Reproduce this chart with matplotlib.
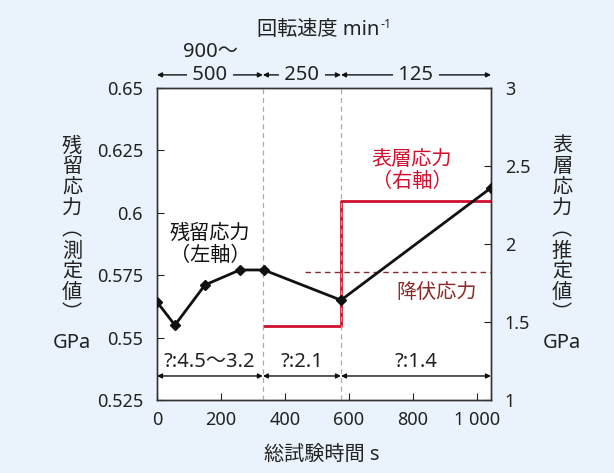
import numpy as np
import matplotlib.pyplot as plt

plt.rcParams['font.family'] = ['Noto Sans', 'Noto Sans CJK JP']

# residual stress (measured), left axis
t_res = [0, 56, 150, 259, 334, 575, 1044]
res = [0.5643, 0.555, 0.5711, 0.5771, 0.5771, 0.565, 0.610]

# surface stress (estimated), right axis
t_surf = [334, 575, 575, 1044]
surf = [1.474, 1.474, 2.276, 2.276]

# yield stress
t_yield = [462, 1044]
yld = [1.82, 1.82]

# speed stages
stage_edges = [0, 331, 575, 1044]
speed_labels = ['500', '250', '125']
ratio_labels = ['?:4.5〜3.2', '?:2.1', '?:1.4']

xticks = [0, 200, 400, 600, 800, 1000]
xticklabels = ['0', '200', '400', '600', '800', '1 000']

black = '#111111'
txt = '#222222'
red = '#D0102E'
darkred = '#8B2A2A'
bg = '#EAF3FB'
fs = 14.5

fig = plt.figure(figsize=(6.14, 4.73), dpi=100)
fig.patch.set_facecolor(bg)
ax = fig.add_axes([157/614, 73/473, 334/614, 312/473])
ax2 = ax.twinx()

ax.set_xlim(0, 1044)
ax.set_ylim(0.525, 0.65)
ax.set_yticks([0.525, 0.55, 0.575, 0.6, 0.625, 0.65])
ax.set_yticklabels(['0.525', '0.55', '0.575', '0.6', '0.625', '0.65'])
ax.set_xticks(xticks)
ax.set_xticklabels(xticklabels)
ax2.set_ylim(1, 3)
ax2.set_yticks([1, 1.5, 2, 2.5, 3])
ax2.set_yticklabels(['1', '1.5', '2', '2.5', '3'])

for a in (ax, ax2):
    a.tick_params(direction='in', labelsize=13, colors=txt, length=5, pad=10)
    for s in a.spines.values():
        s.set_color('#333333')
        s.set_linewidth(1.0)
ax.tick_params(axis='x', pad=8)

for xe in stage_edges[1:3]:
    ax.axvline(xe, color='#AAAAAA', lw=0.9, ls=(0, (4, 3)), zorder=1)

ax2.plot(t_yield, yld, color=darkred, lw=1.0, ls=(0, (4, 3)), zorder=2)
ax2.plot(t_surf, surf, color=red, lw=2.0, zorder=3)
ax.plot(t_res, res, color=black, lw=2.0, marker='D', ms=5, zorder=4)
ax.set_zorder(ax2.get_zorder() + 1)
ax.patch.set_visible(False)
ax2.patch.set_facecolor('white')
ax2.patch.set_visible(True)

# in-plot labels
ax.text(166, 0.5873, '残留応力\n（左軸）', ha='center', va='center', fontsize=fs, color=black,
        linespacing=1.1, family=['Noto Sans CJK JP'])
ax2.text(797, 2.47, '表層応力\n（右軸）', ha='center', va='center', fontsize=fs, color=red,
         linespacing=1.1, family=['Noto Sans CJK JP'])
ax2.text(875, 1.69, '降伏応力', ha='center', va='center', fontsize=fs, color=darkred,
         family=['Noto Sans CJK JP'])

# arrows above and below plot (x in data, y in axes fraction)
trans = ax.get_xaxis_transform()
for i in range(3):
    x0, x1 = stage_edges[i], stage_edges[i + 1]
    xm = (x0 + x1) / 2
    ax.annotate('', xy=(x0, 1.042), xytext=(x1, 1.042), xycoords=trans, textcoords=trans,
                arrowprops=dict(arrowstyle='<|-|>', color=black, lw=1.0, mutation_scale=7,
                                shrinkA=0, shrinkB=0), annotation_clip=False)
    ax.text(xm, 1.042, ' ' + speed_labels[i] + ' ', transform=trans, ha='center', va='center',
            fontsize=fs, color=txt, bbox=dict(fc=bg, ec='none', pad=0.3))
    ax.annotate('', xy=(x0, 0.077), xytext=(x1, 0.077), xycoords=trans, textcoords=trans,
                arrowprops=dict(arrowstyle='<|-|>', color=black, lw=1.0, mutation_scale=7,
                                shrinkA=0, shrinkB=0), annotation_clip=False)
    ax.text(xm, 0.122, ratio_labels[i], transform=trans, ha='center', va='center',
            fontsize=fs, color=txt)
ax.text(166, 1.115, '900〜', transform=trans, ha='center', va='center', fontsize=fs, color=txt)

# title with superscript, drawn as two pieces
fig.text(379/614, 1 - 30/473, '回転速度 min', ha='right', va='center', fontsize=fs, color=txt)
fig.text(380/614, 1 - 24/473, '-1', ha='left', va='center', fontsize=9, color=txt)
fig.text(322/614, 1 - 455/473, '総試験時間 s', ha='center', va='center', fontsize=fs, color=txt)

# vertical axis titles
fig.text(72/614, 1 - 230/473, '\n'.join('残留応力︵測定値︶'), ha='center', va='center',
         fontsize=fs, color=txt, linespacing=1.0, family=['Noto Sans CJK JP'])
fig.text(72/614, 1 - 343/473, 'GPa', ha='center', va='center', fontsize=fs, color=txt)
fig.text(562/614, 1 - 230/473, '\n'.join('表層応力︵推定値︶'), ha='center', va='center',
         fontsize=fs, color=txt, linespacing=1.0, family=['Noto Sans CJK JP'])
fig.text(562/614, 1 - 343/473, 'GPa', ha='center', va='center', fontsize=fs, color=txt)

fig.savefig('out.png', dpi=100, facecolor=fig.get_facecolor())
